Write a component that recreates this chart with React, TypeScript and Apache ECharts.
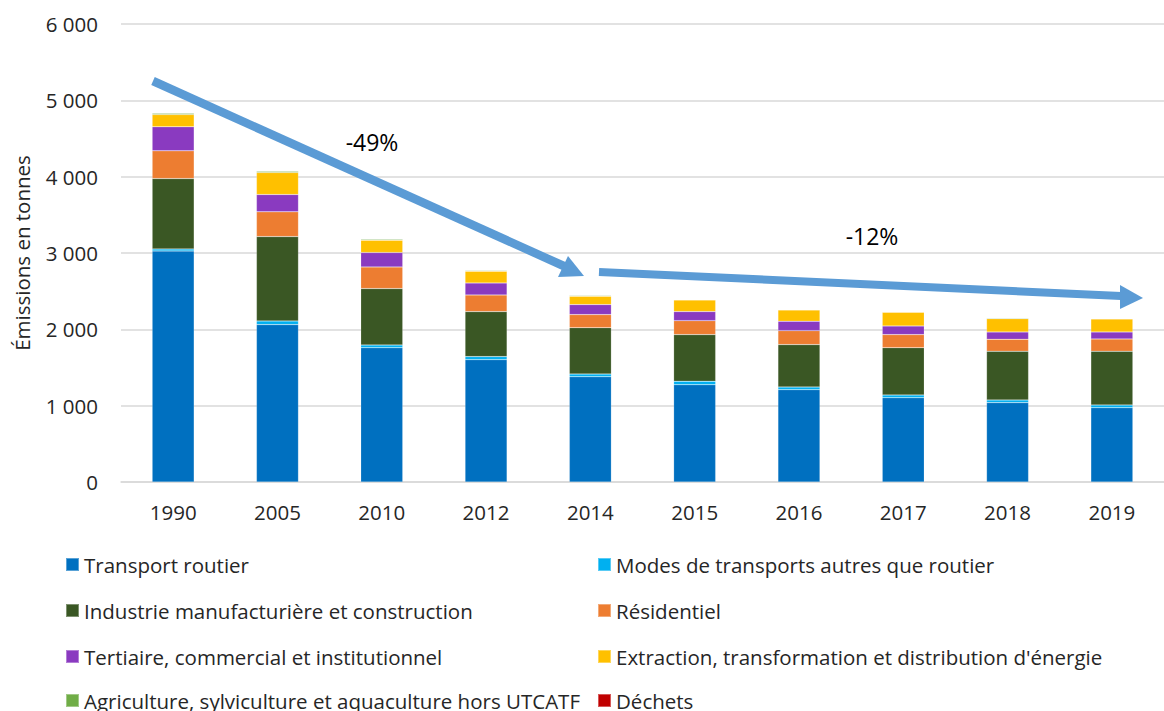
import React, { useEffect, useRef } from "react";
import * as echarts from "echarts";

const years = ["1990", "2005", "2010", "2012", "2014", "2015", "2016", "2017", "2018", "2019"];
const transportRoutier = [3027, 2062, 1760, 1603, 1380, 1275, 1210, 1105, 1040, 974];
const modesAutres = [27, 48, 35, 40, 35, 45, 35, 35, 35, 35];
const industrie = [921, 1105, 739, 589, 607, 611, 555, 620, 638, 704];
const residentiel = [363, 324, 284, 219, 171, 183, 183, 171, 157, 161];
const tertiaire = [315, 227, 188, 157, 131, 118, 123, 114, 96, 92];
const extraction = [161, 288, 161, 153, 110, 153, 148, 179, 174, 170];
const agriculture = [18, 18, 14, 9, 8, 6, 6, 6, 8, 6];
const dechets = [0, 0, 0, 0, 0, 0, 0, 0, 0, 0];

const seriesNames = [
  "Transport routier",
  "Modes de transports autres que routier",
  "Industrie manufacturière et construction",
  "Résidentiel",
  "Tertiaire, commercial et institutionnel",
  "Extraction, transformation et distribution d'énergie",
  "Agriculture, sylviculture et aquaculture hors UTCATF",
  "Déchets",
];
const seriesData = [transportRoutier, modesAutres, industrie, residentiel, tertiaire, extraction, agriculture, dechets];
const colors = ["#0070C0", "#00B0F0", "#3A5724", "#ED7D31", "#8A3AC0", "#FFC000", "#70AD47", "#C00000"];

const FONT = "'Open Sans', 'Noto Sans', sans-serif";
const TXT = "#262626";
const ARROW = "#5B9BD5";
const FS = 20.5;

export default function App() {
  const ref = useRef<HTMLDivElement>(null);
  useEffect(() => {
    if (!ref.current) return;
    const chart = echarts.init(ref.current, null, { renderer: "svg" });

    const legendPos = [
      [65, 554], [597, 554],
      [65, 600], [597, 600],
      [65, 646], [597, 646],
      [65, 690], [597, 690],
    ];

    const option: any = {
      animation: false,
      textStyle: { fontFamily: FONT },
      grid: { left: 121, top: 24, width: 1052, height: 458, containLabel: false },
      legend: seriesNames.map((n, i) => ({
        data: [n],
        left: legendPos[i][0],
        top: legendPos[i][1],
        padding: 0,
        icon: "rect",
        itemWidth: 13,
        itemHeight: 13,
        selectedMode: false,
        textStyle: { fontSize: FS, color: TXT, fontFamily: FONT },
      })),
      xAxis: {
        type: "category",
        data: years,
        axisLine: { lineStyle: { color: "#D9D9D9", width: 1.5 } },
        axisTick: { show: false },
        axisLabel: { fontSize: FS, color: TXT, margin: 19, fontFamily: FONT },
      },
      yAxis: {
        type: "value",
        min: 0,
        max: 6000,
        interval: 1000,
        name: "Émissions en tonnes",
        nameLocation: "middle",
        nameGap: 89,
        nameTextStyle: { fontSize: FS, color: TXT, fontFamily: FONT },
        axisLine: { show: false },
        axisTick: { show: false },
        splitLine: { lineStyle: { color: "#D9D9D9", width: 1.5 } },
        axisLabel: {
          fontSize: FS,
          color: TXT,
          margin: 23,
          fontFamily: FONT,
          formatter: (v: number) => String(v).replace(/\B(?=(\d{3})+(?!\d))/g, " "),
        },
      },
      series: seriesNames.map((n, i) => ({
        name: n,
        type: "bar",
        stack: "total",
        barWidth: 42,
        data: seriesData[i],
        itemStyle: { color: colors[i], borderColor: "rgba(255,255,255,0.35)", borderWidth: 0.5 },
      })),
      graphic: [
        {
          type: "polyline",
          shape: { points: [[153, 81], [566, 267]] },
          style: { stroke: ARROW, lineWidth: 8.5, fill: null },
          z: 100,
        },
        {
          type: "polygon",
          shape: { points: [[568, 256], [584, 276], [558, 277]] },
          style: { fill: ARROW },
          z: 100,
        },
        {
          type: "polyline",
          shape: { points: [[599, 272], [1121, 296]] },
          style: { stroke: ARROW, lineWidth: 8, fill: null },
          z: 100,
        },
        {
          type: "polygon",
          shape: { points: [[1120, 285], [1143, 298], [1120, 309]] },
          style: { fill: ARROW },
          z: 100,
        },
        {
          type: "text",
          x: 372,
          y: 142,
          style: { text: "-49%", fontSize: 23, fill: "#000", fontFamily: FONT, align: "center", verticalAlign: "middle" },
          z: 100,
        },
        {
          type: "text",
          x: 872,
          y: 236,
          style: { text: "-12%", fontSize: 23, fill: "#000", fontFamily: FONT, align: "center", verticalAlign: "middle" },
          z: 100,
        },
      ],
    };
    chart.setOption(option);
    return () => chart.dispose();
  }, []);
  return (
    <div
      ref={ref}
      style={{ position: "fixed", left: 0, top: 0, width: 1164, height: 711, background: "#fff" }}
    />
  );
}
